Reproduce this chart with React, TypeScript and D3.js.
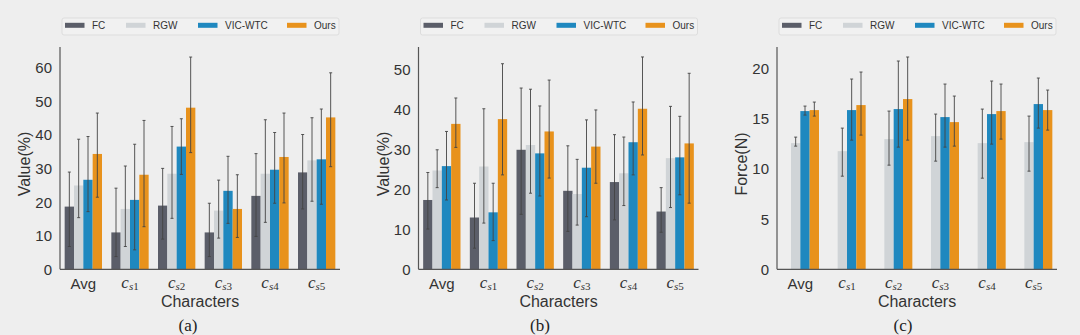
import React from "react";
import * as d3 from "d3";

// ---------- data ----------
const categories = ["Avg", "c_s1", "c_s2", "c_s3", "c_s4", "c_s5"];
const seriesNames = ["FC", "RGW", "VIC-WTC", "Ours"];
const seriesColors = ["#5b5e69", "#d0d4d7", "#1f88bf", "#e8921c"];

// Panel (a) Value(%)
const aFC = [18.7, 11.0, 19.0, 11.0, 21.9, 28.9];
const aFC_hi = [29.0, 24.2, 30.1, 19.7, 34.5, 40.2];
const aFC_lo = [6.8, 3.8, 9.0, 3.8, 9.8, 18.0];
const aRGW = [25.0, 18.0, 28.5, 17.5, 28.5, 32.5];
const aRGW_hi = [38.8, 30.8, 42.6, 26.6, 44.6, 45.2];
const aRGW_lo = [15.4, 6.8, 15.2, 9.3, 14.0, 20.3];
const aVIC = [26.7, 20.7, 36.6, 23.4, 29.7, 32.8];
const aVIC_hi = [39.6, 37.3, 44.9, 33.7, 40.8, 47.8];
const aVIC_lo = [17.2, 5.8, 28.3, 13.7, 19.7, 19.4];
const aOurs = [34.4, 28.2, 48.2, 18.0, 33.5, 45.3];
const aOurs_hi = [46.6, 44.4, 63.3, 28.2, 46.6, 58.6];
const aOurs_lo = [21.5, 12.7, 34.8, 9.5, 19.8, 30.6];

// Panel (b) Value(%)
const bFC = [17.4, 13.0, 30.0, 19.7, 21.9, 14.5];
const bFC_hi = [24.3, 21.6, 45.5, 31.0, 33.8, 20.5];
const bFC_lo = [10.1, 5.3, 13.8, 9.5, 12.4, 9.3];
const bRGW = [24.8, 25.8, 31.2, 18.9, 24.1, 27.9];
const bRGW_hi = [30.0, 40.3, 45.2, 27.6, 33.2, 40.9];
const bRGW_lo = [20.5, 11.6, 19.1, 11.1, 16.0, 15.5];
const bVIC = [25.9, 14.3, 29.1, 25.5, 31.9, 28.1];
const bVIC_hi = [34.6, 21.6, 41.0, 37.5, 42.0, 38.4];
const bVIC_lo = [17.4, 7.2, 18.4, 13.2, 23.7, 18.7];
const bOurs = [36.5, 37.7, 34.6, 30.8, 40.3, 31.6];
const bOurs_hi = [43.0, 51.6, 47.5, 40.0, 53.3, 49.2];
const bOurs_lo = [30.6, 23.7, 22.9, 21.6, 28.7, 16.6];

// Panel (c) Force(N) — FC has no bars
const cFC = [0, 0, 0, 0, 0, 0];
const cRGW = [12.6, 11.8, 13.0, 13.3, 12.6, 12.7];
const cRGW_hi = [13.2, 14.1, 15.8, 15.5, 16.0, 15.3];
const cRGW_lo = [12.3, 9.3, 10.4, 10.8, 9.1, 9.8];
const cVIC = [15.8, 15.9, 16.0, 15.2, 15.5, 16.5];
const cVIC_hi = [16.3, 19.0, 20.8, 18.5, 18.8, 19.1];
const cVIC_lo = [15.4, 12.9, 12.2, 12.2, 12.5, 14.1];
const cOurs = [15.9, 16.4, 17.0, 14.7, 15.8, 15.9];
const cOurs_hi = [16.7, 19.7, 21.2, 17.3, 18.5, 17.9];
const cOurs_lo = [15.3, 13.4, 12.9, 12.3, 13.0, 13.9];

const aTicks = [0, 10, 20, 30, 40, 50, 60];
const bTicks = [0, 10, 20, 30, 40, 50];
const cTicks = [0, 5, 10, 15, 20];
const yMaxes = [66.3, 55.8, 22.2];
const yTitles = ["Value(%)", "Value(%)", "Force(N)"];
const captions = ["(a)", "(b)", "(c)"];
const xTitle = "Characters";

type Series = { v: number[]; hi: number[] | null; lo: number[] | null };

const panels: { series: Series[]; ticks: number[] }[] = [
  {
    series: [
      { v: aFC, hi: aFC_hi, lo: aFC_lo },
      { v: aRGW, hi: aRGW_hi, lo: aRGW_lo },
      { v: aVIC, hi: aVIC_hi, lo: aVIC_lo },
      { v: aOurs, hi: aOurs_hi, lo: aOurs_lo },
    ],
    ticks: aTicks,
  },
  {
    series: [
      { v: bFC, hi: bFC_hi, lo: bFC_lo },
      { v: bRGW, hi: bRGW_hi, lo: bRGW_lo },
      { v: bVIC, hi: bVIC_hi, lo: bVIC_lo },
      { v: bOurs, hi: bOurs_hi, lo: bOurs_lo },
    ],
    ticks: bTicks,
  },
  {
    series: [
      { v: cFC, hi: null, lo: null },
      { v: cRGW, hi: cRGW_hi, lo: cRGW_lo },
      { v: cVIC, hi: cVIC_hi, lo: cVIC_lo },
      { v: cOurs, hi: cOurs_hi, lo: cOurs_lo },
    ],
    ticks: cTicks,
  },
];

// ---------- layout ----------
const W = 1080;
const H = 335;
const BG = "#eeeeee";
const SANS = "'Liberation Sans', Arial, sans-serif";
const SERIF = "'Liberation Serif', 'Times New Roman', serif";
const panelLefts = [60, 418.5, 777];
const plotW = 280;
const baseY = 269.3;
const topY = 47;
const captionXs = [188, 540, 903];
const legendOffsets = [5, 66, 138, 227];

function XLabel({ label, x, y }: { label: string; x: number; y: number }) {
  if (label.startsWith("c_")) {
    const sub = label.slice(2);
    return (
      <text x={x} y={y - 1} textAnchor="middle" fill="#333" fontFamily={SERIF}>
        <tspan fontStyle="italic" fontSize={17}>c</tspan>
        <tspan fontStyle="italic" fontSize={11} dy={2}>{sub[0]}</tspan>
        <tspan fontSize={11}>{sub.slice(1)}</tspan>
      </text>
    );
  }
  return (
    <text x={x} y={y} textAnchor="middle" fill="#333" fontFamily={SANS} fontSize={15}>
      {label}
    </text>
  );
}

function Panel({ idx }: { idx: number }) {
  const p = panels[idx];
  const left = panelLefts[idx];
  const x0 = d3
    .scaleBand<string>()
    .domain(categories)
    .range([left, left + plotW])
    .paddingInner(0.2)
    .paddingOuter(0.1);
  const x1 = d3
    .scaleBand<string>()
    .domain(seriesNames)
    .range([0, x0.bandwidth()]);
  const y = d3.scaleLinear().domain([0, yMaxes[idx]]).range([baseY, topY]);
  const cx = left + plotW / 2;

  return (
    <g>
      {/* legend */}
      <rect x={left + 2} y={18} width={plotW - 3} height={17} rx={2} fill="#f1f1f1" stroke="#dddddd" strokeWidth={1} />
      {seriesNames.map((s, i) => (
        <g key={s}>
          <rect x={left + legendOffsets[i]} y={22.8} width={19.5} height={5} fill={seriesColors[i]} />
          <text x={left + legendOffsets[i] + 27} y={29.3} fontFamily={SANS} fontSize={10} fill="#333">
            {s}
          </text>
        </g>
      ))}

      {/* bars */}
      {categories.map((c, ci) => (
        <g key={c}>
          {p.series.map((s, si) => {
            const v = s.v[ci];
            if (!v) return null;
            const bx = (x0(c) as number) + (x1(seriesNames[si]) as number);
            return (
              <rect
                key={si}
                x={bx}
                y={y(v)}
                width={x1.bandwidth()}
                height={baseY - y(v)}
                fill={seriesColors[si]}
              />
            );
          })}
          {p.series.map((s, si) => {
            if (!s.hi || !s.lo || !s.v[ci]) return null;
            const ex = (x0(c) as number) + (x1(seriesNames[si]) as number) + x1.bandwidth() / 2;
            const yh = y(s.hi[ci]);
            const yl = y(s.lo[ci]);
            return (
              <g key={"e" + si} stroke="#444" strokeWidth={0.9}>
                <line x1={ex} x2={ex} y1={yh} y2={yl} />
                <line x1={ex - 1.5} x2={ex + 1.5} y1={yh} y2={yh} />
                <line x1={ex - 1.5} x2={ex + 1.5} y1={yl} y2={yl} />
              </g>
            );
          })}
        </g>
      ))}

      {/* spines */}
      <line x1={left} x2={left} y1={topY} y2={baseY} stroke="#555" strokeWidth={1.2} />
      <line x1={left} x2={left + plotW} y1={baseY} y2={baseY} stroke="#555" strokeWidth={1.2} />

      {/* y ticks */}
      {p.ticks.map((t) => (
        <text key={t} x={left - 8} y={y(t) + 5.3} textAnchor="end" fontFamily={SANS} fontSize={15} fill="#333">
          {t}
        </text>
      ))}

      {/* x tick labels */}
      {categories.map((c) => (
        <XLabel key={c} label={c} x={(x0(c) as number) + x0.bandwidth() / 2} y={289} />
      ))}

      {/* axis titles */}
      <text x={cx} y={307} textAnchor="middle" fontFamily={SANS} fontSize={16} fill="#333">
        {xTitle}
      </text>
      <text
        transform={`translate(${left - 30},164) rotate(-90)`}
        textAnchor="middle"
        fontFamily={SANS}
        fontSize={16}
        fill="#333"
      >
        {yTitles[idx]}
      </text>
      <text x={captionXs[idx]} y={331} textAnchor="middle" fontFamily={SERIF} fontSize={17} fill="#222">
        {captions[idx]}
      </text>
    </g>
  );
}

export default function App() {
  return (
    <svg
      width={W}
      height={H}
      style={{ position: "absolute", left: 0, top: 0, display: "block" }}
      xmlns="http://www.w3.org/2000/svg"
    >
      <rect x={0} y={0} width={W} height={H} fill={BG} />
      {panels.map((_, i) => (
        <Panel key={i} idx={i} />
      ))}
    </svg>
  );
}
